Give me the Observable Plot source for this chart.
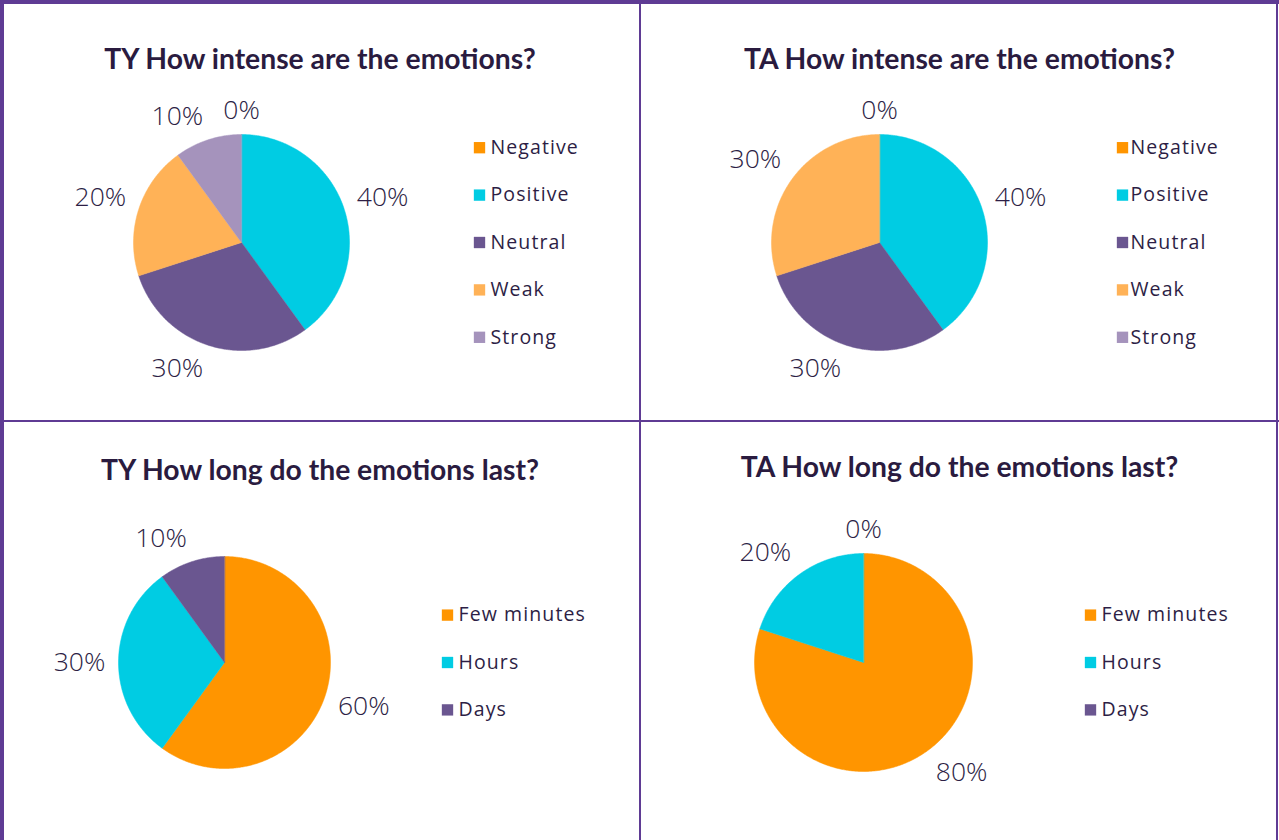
<!DOCTYPE html>
<html>
<head>
<meta charset="utf-8">
<script src="https://cdn.jsdelivr.net/npm/d3@7"></script>
<script src="https://cdn.jsdelivr.net/npm/@observablehq/plot@0.6"></script>
<style>
  html, body { margin: 0; padding: 0; background: #fff; }
  #root { position: relative; width: 1279px; height: 840px; background: #fff; overflow: hidden; }
  .panel { position: absolute; }
  .title { position: absolute; left: 0; text-align: center; font-family: Lato, "Open Sans", sans-serif; font-weight: 700; font-size: 28.3px; line-height: 29px; color: #2A1B3F; white-space: nowrap; }
  .chart { position: absolute; left: 0; top: 100px; }
  .line { position: absolute; background: #5F3B94; }
</style>
</head>
<body>
<div id="root"></div>
<script>
// ---- data ----
const intenseCategories = ["Negative", "Positive", "Neutral", "Weak", "Strong"];
const tyIntenseValues = [0, 40, 30, 20, 10];
const taIntenseValues = [0, 40, 30, 30, null];
const durationCategories = ["Few minutes", "Hours", "Days"];
const tyDurationValues = [60, 30, 10];
const taDurationValues = [80, 20, 0];
const panelTitles = [
  "TY How intense are the emotions?",
  "TA How intense are the emotions?",
  "TY How long do the emotions last?",
  "TA How long do the emotions last?"
];
const intenseColors = ["#FF9500", "#00CCE3", "#6A5690", "#FFB257", "#A593BC"];
const durationColors = ["#FF9500", "#00CCE3", "#6A5690"];

const textColor = "#2D1E45";

// ---- layout ----
const panels = [
  {left: 0,   top: 0,   w: 640, h: 421, titleTop: 44, title: panelTitles[0], cats: intenseCategories, values: tyIntenseValues, colors: intenseColors, cx: 241, cy: 142, r: 108, legX: 479, legTextX: 490},
  {left: 640, top: 0,   w: 639, h: 421, titleTop: 44, title: panelTitles[1], cats: intenseCategories, values: taIntenseValues, colors: intenseColors, cx: 239, cy: 142, r: 108, legX: 482, legTextX: 490},
  {left: 0,   top: 421, w: 640, h: 419, titleTop: 34, title: panelTitles[2], cats: durationCategories, values: tyDurationValues, colors: durationColors, cx: 224, cy: 141, r: 106, legX: 447, legTextX: 458},
  {left: 640, top: 421, w: 639, h: 419, titleTop: 31, title: panelTitles[3], cats: durationCategories, values: taDurationValues, colors: durationColors, cx: 223, cy: 141, r: 109, legX: 450, legTextX: 461}
];

function pieChart(cfg) {
  const W = cfg.w, H = cfg.h - 100;
  const data = cfg.cats.map((c, i) => ({cat: c, value: cfg.values[i]}));
  const arcs = d3.pie().sort(null).value(d => d.value ?? 0)(data);
  const slicePts = [];
  arcs.forEach(a => {
    if (!(a.data.value > 0)) return;
    const span = a.endAngle - a.startAngle;
    const n = Math.max(4, Math.ceil(span / 0.01));
    slicePts.push({cat: a.data.cat, x: cfg.cx, y: cfg.cy});
    for (let k = 0; k <= n; k++) {
      const t = a.startAngle + span * k / n;
      slicePts.push({cat: a.data.cat, x: cfg.cx + cfg.r * Math.sin(t), y: cfg.cy - cfg.r * Math.cos(t)});
    }
  });
  const clamp = (v, k) => Math.max(-1, Math.min(1, k * v));
  const labels = arcs.filter(a => a.data.value != null).map(a => {
    const m = (a.startAngle + a.endAngle) / 2;
    const ux = Math.sin(m), uy = -Math.cos(m);
    const text = a.data.value + "%";
    const w = text.length * 18, h = 24;
    const R = cfg.r + 12;
    return {x: cfg.cx + ux * R + clamp(ux, 4) * w / 2, y: cfg.cy + uy * R + clamp(uy, 2) * h / 2, text};
  });
  const nCat = cfg.cats.length;
  const legend = cfg.cats.map((c, i) => ({cat: c, y: cfg.cy + (i - (nCat - 1) / 2) * 47.4}));

  return Plot.plot({
    width: W, height: H, margin: 0,
    x: {domain: [0, W], axis: null},
    y: {domain: [0, H], reverse: true, axis: null},
    color: {domain: cfg.cats, range: cfg.colors},
    style: {background: "transparent", overflow: "visible"},
    marks: [
      Plot.line(slicePts, {x: "x", y: "y", z: "cat", fill: "cat", stroke: "cat", strokeWidth: 0.5, curve: "linear-closed"}),
      Plot.text(labels, {x: "x", y: "y", text: "text", fontSize: 26.5, fontWeight: 300, fill: textColor, fontFamily: "'Open Sans', sans-serif"}),
      Plot.dot(legend, {x: () => cfg.legX, y: "y", symbol: "square", r: 6.4, fill: "cat", stroke: null}),
      Plot.text(legend, {x: () => cfg.legTextX, y: "y", text: "cat", textAnchor: "start", fontSize: 19.5, fill: textColor, fontFamily: "'Open Sans', sans-serif"})
    ]
  });
}

const root = document.getElementById("root");
panels.forEach(cfg => {
  const p = document.createElement("div");
  p.className = "panel";
  p.style.left = cfg.left + "px";
  p.style.top = cfg.top + "px";
  p.style.width = cfg.w + "px";
  p.style.height = cfg.h + "px";
  const t = document.createElement("div");
  t.className = "title";
  t.style.top = cfg.titleTop + "px";
  t.style.width = cfg.w + "px";
  t.textContent = cfg.title;
  p.appendChild(t);
  const c = document.createElement("div");
  c.className = "chart";
  const svg = pieChart(cfg);
  svg.querySelectorAll("g[font-size='19.5']").forEach(g => g.setAttribute("letter-spacing", "1.1"));
  c.appendChild(svg);
  p.appendChild(c);
  root.appendChild(p);
});

// borders
[
  {l: 0, t: 0, w: 4, h: 840},
  {l: 0, t: 0, w: 1279, h: 4},
  {l: 1276, t: 0, w: 2, h: 840},
  {l: 639, t: 0, w: 2, h: 840},
  {l: 0, t: 420, w: 1279, h: 2}
].forEach(b => {
  const d = document.createElement("div");
  d.className = "line";
  d.style.left = b.l + "px"; d.style.top = b.t + "px";
  d.style.width = b.w + "px"; d.style.height = b.h + "px";
  root.appendChild(d);
});
</script>
</body>
</html>
